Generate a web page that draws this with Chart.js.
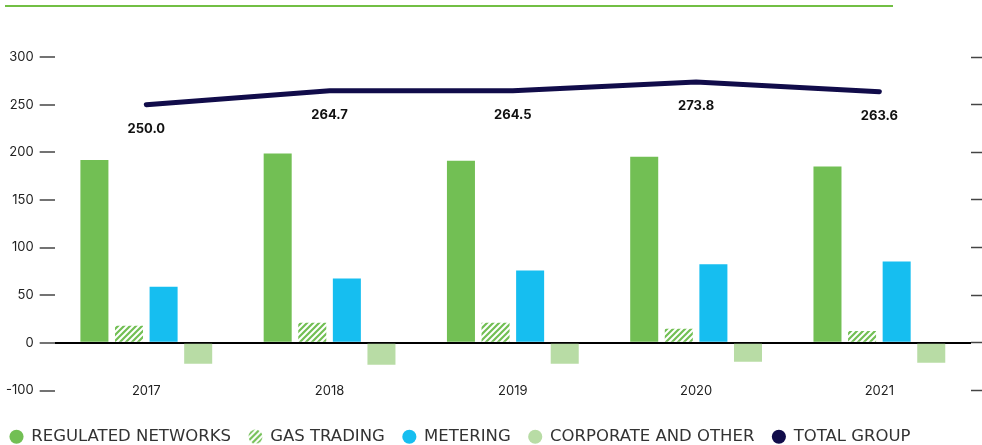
<!DOCTYPE html>
<html lang="en">
<head>
    <meta charset="UTF-8">
    <title>Group results</title>
    <script src="https://cdn.jsdelivr.net/npm/chart.js"></script>
    <style>
        body { margin: 0; background: #fff; }
        .topo { position: absolute; left: 5px; top: 5px; width: 888px; height: 2px; background: #72bf44; }
        .grafico { position: relative; width: 982px; height: 445px; }
    </style>
</head>
<body>
    <div class="topo"></div>
    <div class="grafico">
        <canvas id="myChartCanvas"></canvas>
    </div>

<script>
    var anos = ['2017', '2018', '2019', '2020', '2021'];
    var redesReguladas = [192, 198.6, 191, 195.4, 185];
    var gasTrading = [18, 21, 21, 14.8, 12.5];
    var metering = [59, 67.6, 76, 82.4, 85.5];
    var corporate = [-22, -23, -22, -19.7, -21];
    var totalGrupo = [250.0, 264.7, 264.5, 273.8, 263.6];
    var ticksY = [-50, 0, 50, 100, 150, 200, 250, 300];
    var rotulosY = ['-100', '0', '50', '100', '150', '200', '250', '300'];

    var verde = '#72bf54';
    var azul = '#16bef0';
    var verdeClaro = '#b8dca5';
    var azulEscuro = '#110c4a';
    var fonte = "'Inter', 'Noto Sans', sans-serif";

    // padrao listrado do gas trading
    function criarListras() {
        var c = document.createElement('canvas');
        c.width = 6; c.height = 6;
        var ctx = c.getContext('2d');
        ctx.strokeStyle = verde;
        ctx.lineWidth = 2.2;
        ctx.beginPath();
        ctx.moveTo(-1, 7); ctx.lineTo(7, -1);
        ctx.moveTo(-4, 4); ctx.lineTo(4, -4);
        ctx.moveTo(2, 10); ctx.lineTo(10, 2);
        ctx.stroke();
        return ctx.createPattern(c, 'repeat');
    }
    var listras = criarListras();

    function iconeListrado() {
        var c = document.createElement('canvas');
        c.width = 15; c.height = 15;
        var ctx = c.getContext('2d');
        ctx.beginPath();
        ctx.arc(7.5, 7.5, 7, 0, Math.PI * 2);
        ctx.clip();
        ctx.fillStyle = listras;
        ctx.fillRect(0, 0, 15, 15);
        return c;
    }

    var rotulosLinha = {
        id: 'rotulosLinha',
        beforeDraw: function (chart) {
            // legenda encostada na esquerda
            chart.legend.left = -8;
        },
        afterDatasetsDraw: function (chart) {
            var meta = chart.getDatasetMeta(4);
            var ctx = chart.ctx;
            ctx.save();
            ctx.font = "bold 13px " + fonte;
            ctx.fillStyle = '#111';
            ctx.textAlign = 'center';
            ctx.textBaseline = 'middle';
            meta.data.forEach(function (p, i) {
                ctx.fillText(totalGrupo[i].toFixed(1), p.x, p.y + 24);
            });
            ctx.restore();
        }
    };

    var barOpts = { categoryPercentage: 0.755, barPercentage: 0.81 };

    var dados = {
        labels: anos,
        datasets: [
            Object.assign({ type: 'bar', label: 'REGULATED NETWORKS', data: redesReguladas, backgroundColor: verde }, barOpts),
            Object.assign({ type: 'bar', label: 'GAS TRADING', data: gasTrading, backgroundColor: listras }, barOpts),
            Object.assign({ type: 'bar', label: 'METERING', data: metering, backgroundColor: azul }, barOpts),
            Object.assign({ type: 'bar', label: 'CORPORATE AND OTHER', data: corporate, backgroundColor: verdeClaro }, barOpts),
            {
                type: 'line', label: 'TOTAL GROUP', data: totalGrupo,
                borderColor: azulEscuro, backgroundColor: azulEscuro,
                borderWidth: 5, pointRadius: 0, borderCapStyle: 'round',
                tension: 0
            }
        ]
    };

    const config = {
        type: 'bar',
        data: dados,
        plugins: [rotulosLinha],
        options: {
            responsive: true,
            maintainAspectRatio: false,
            animation: false,
            layout: { padding: { top: 57, left: 0, right: 0, bottom: -10 } },
            scales: {
                x: {
                    grid: { display: false },
                    border: { display: false },
                    ticks: { display: false },
                    afterFit: function (s) { s.height = 20; }
                },
                x2: {
                    type: 'category',
                    labels: anos,
                    offset: true,
                    position: { y: -50 },
                    grid: { display: false },
                    border: { display: false },
                    ticks: { color: '#222', font: { family: fonte, size: 13 }, padding: -15 }
                },
                y: {
                    min: -50, max: 300,
                    afterBuildTicks: function (s) { s.ticks = ticksY.map(function (v) { return { value: v }; }); },
                    border: { display: false },
                    grid: {
                        color: function (c) { return c.tick && c.tick.value === 0 ? '#000' : 'rgba(0,0,0,0)'; },
                        lineWidth: 2,
                        tickColor: '#444',
                        tickWidth: 1.5,
                        tickLength: 15
                    },
                    ticks: {
                        color: '#222', font: { family: fonte, size: 13 }, padding: 6,
                        callback: function (v) { return rotulosY[ticksY.indexOf(v)]; }
                    }
                },
                y2: {
                    position: 'right',
                    min: -50, max: 300,
                    afterBuildTicks: function (s) { s.ticks = ticksY.map(function (v) { return { value: v }; }); },
                    border: { display: false },
                    grid: { drawOnChartArea: false, tickColor: '#444', tickWidth: 1.5, tickLength: 11 },
                    ticks: { display: false }
                }
            },
            plugins: {
                tooltip: { enabled: false },
                legend: {
                    position: 'bottom',
                    align: 'start',
                    labels: {
                        usePointStyle: true,
                        boxWidth: 13, boxHeight: 10,
                        padding: 18,
                        color: '#333',
                        font: { family: "'DejaVu Sans', sans-serif", size: 16.5 },
                        generateLabels: function (chart) {
                            var itens = Chart.defaults.plugins.legend.labels.generateLabels(chart);
                            itens.forEach(function (it) {
                                it.pointStyle = it.datasetIndex === 1 ? iconeListrado() : 'circle';
                                it.lineWidth = 0;
                                it.strokeStyle = 'rgba(0,0,0,0)';
                            });
                            return itens;
                        }
                    }
                }
            }
        }
    };

    let myChart = new Chart(document.getElementById('myChartCanvas'), config);
</script>
</body>
</html>
